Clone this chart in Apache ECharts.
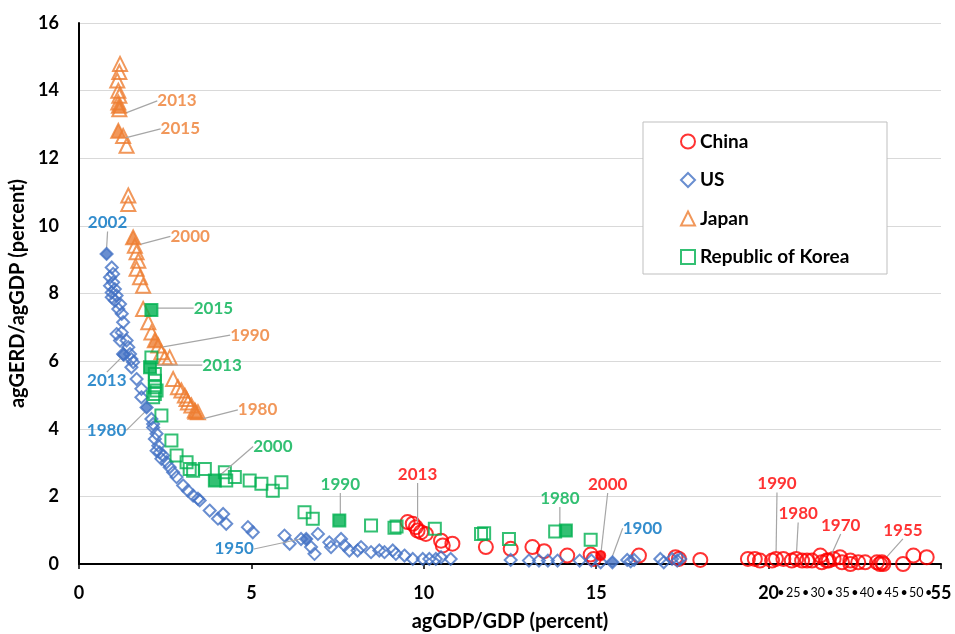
<!DOCTYPE html>
<html>
<head>
<meta charset="utf-8">
<script src="https://cdn.jsdelivr.net/npm/echarts@6/dist/echarts.min.js"></script>
<style>
  html, body { margin: 0; padding: 0; background: #ffffff; }
  #chart { width: 955px; height: 634px; }
</style>
</head>
<body>
<div id="chart"></div>
<script>
// agGERD/agGDP (%) against agGDP/GDP (%) for four countries.
// Past 20 on the x axis the scale is squeezed 1:7 so the range 20–55 fits.

// ---- China -------------------------------------------------------------
const chinaPoints = [
  [9.53, 1.24], [9.68, 1.19], [9.77, 1.09], [9.92, 0.94], [10.06, 0.89],
  [10.5, 0.69], [10.55, 0.55], [10.83, 0.6], [11.8, 0.5], [12.52, 0.45],
  [13.15, 0.5], [13.49, 0.38], [14.16, 0.25], [14.84, 0.28], [14.93, 0.15],
  [16.24, 0.25], [17.3, 0.2], [17.4, 0.15], [18.02, 0.12], [19.4, 0.15],
  [19.6, 0.15], [19.75, 0.1], [20.7, 0.1], [23.0, 0.15], [24.7, 0.1],
  [26.8, 0.1], [27.8, 0.1], [28.8, 0.1], [30.5, 0.25], [30.8, 0.05],
  [31.8, 0.1], [33.2, 0.15], [34.5, 0.2], [34.9, 0.05], [36.6, 0.1],
  [36.6, 0.0], [38.2, 0.05], [39.6, 0.05], [42.0, 0.05], [42.6, 0.0],
  [43.3, 0.0], [47.3, 0.0], [49.4, 0.25], [52.1, 0.2]
];
const chinaYearPoints = [[9.82, 0.99], [15.13, 0.25], [21.5, 0.15], [25.6, 0.15], [32.2, 0.1], [43.0, 0.05]];
const chinaYears = ['2013', '2000', '1990', '1980', '1970', '1955'];

// ---- US ----------------------------------------------------------------
const usPoints = [
  [0.95, 8.77], [0.99, 8.58], [0.9, 8.48], [0.99, 8.33], [0.9, 8.23],
  [1.04, 8.13], [0.95, 8.03], [1.09, 7.94], [0.95, 7.89], [1.04, 7.79],
  [1.19, 7.69], [1.14, 7.54], [1.24, 7.4], [1.28, 7.15], [1.24, 6.85],
  [1.09, 6.8], [1.19, 6.61], [1.38, 6.61], [1.43, 6.41], [1.28, 6.21],
  [1.48, 6.21], [1.52, 6.06], [1.57, 5.97], [1.52, 5.82], [1.67, 5.47],
  [1.81, 5.18], [1.81, 4.93], [2.1, 4.29], [2.15, 4.14], [2.15, 4.04],
  [2.25, 3.85], [2.2, 3.7], [2.3, 3.5], [2.34, 3.3], [2.25, 3.35],
  [2.44, 3.21], [2.39, 3.11], [2.54, 3.01], [2.63, 2.86], [2.73, 2.71],
  [2.83, 2.57], [3.02, 2.32], [3.16, 2.17], [3.31, 2.02], [3.45, 1.93],
  [3.5, 1.88], [3.79, 1.58], [4.03, 1.34], [4.18, 1.48], [4.27, 1.19],
  [4.9, 1.09], [5.04, 0.94], [5.96, 0.84], [6.11, 0.6], [6.44, 0.74],
  [6.73, 0.5], [6.83, 0.3], [6.93, 0.89], [7.26, 0.64], [7.31, 0.5],
  [7.6, 0.74], [7.7, 0.55], [7.84, 0.4], [8.08, 0.4], [8.18, 0.5],
  [8.47, 0.35], [8.71, 0.4], [8.86, 0.35], [9.1, 0.4], [9.19, 0.3],
  [9.44, 0.25], [9.68, 0.15], [9.97, 0.15], [10.16, 0.15], [10.35, 0.15],
  [10.5, 0.2], [10.78, 0.15], [12.52, 0.12], [13.05, 0.1], [13.34, 0.1],
  [13.6, 0.1], [13.88, 0.1], [14.52, 0.1], [14.86, 0.1], [15.13, 0.05],
  [15.9, 0.12], [16.0, 0.08], [16.1, 0.12], [16.86, 0.15], [16.96, 0.05],
  [17.2, 0.15], [17.35, 0.1], [17.44, 0.15]
];
const usYearPoints = [[0.8, 9.17], [1.3, 6.19], [1.96, 4.63], [6.59, 0.74], [15.47, 0.05]];
const usYears = ['2002', '2013', '1980', '1950', '1900'];

// ---- Japan -------------------------------------------------------------
const japanPoints = [
  [1.19, 14.79], [1.17, 14.55], [1.11, 14.3], [1.14, 14.0], [1.17, 13.85],
  [1.14, 13.65], [1.17, 13.45], [1.28, 12.66], [1.38, 12.37], [1.43, 10.9],
  [1.43, 10.65], [1.62, 9.41], [1.67, 9.22], [1.72, 8.97], [1.67, 8.73],
  [1.77, 8.48], [1.86, 8.23], [1.86, 7.54], [2.01, 7.15], [2.1, 6.85],
  [2.3, 6.46], [2.39, 6.26], [2.49, 6.11], [2.63, 6.11], [2.73, 5.47],
  [2.87, 5.23], [2.97, 5.13], [3.07, 4.98], [3.12, 4.88], [3.16, 4.78],
  [3.26, 4.69], [3.36, 4.54], [3.45, 4.49]
];
const japanYearPoints = [[1.16, 13.55], [1.14, 12.81], [1.57, 9.66], [2.2, 6.62], [3.38, 4.5]];
const japanYears = ['2013', '2015', '2000', '1990', '1980'];

// ---- Republic of Korea -------------------------------------------------
const koreaPoints = [
  [2.1, 6.11], [2.2, 5.62], [2.2, 5.42], [2.2, 5.23], [2.25, 5.13],
  [2.2, 5.03], [2.15, 4.93], [2.39, 4.39], [2.68, 3.65], [2.83, 3.21],
  [3.12, 3.01], [3.21, 2.81], [3.31, 2.76], [3.65, 2.81], [4.23, 2.71],
  [4.27, 2.47], [4.52, 2.57], [4.95, 2.47], [5.29, 2.37], [5.62, 2.17],
  [5.87, 2.42], [6.54, 1.53], [6.78, 1.34], [8.47, 1.14], [9.15, 1.07],
  [9.21, 1.11], [10.32, 1.04], [11.66, 0.89], [11.75, 0.91], [12.47, 0.74],
  [13.81, 0.96], [14.84, 0.72]
];
const koreaYearPoints = [[2.1, 7.51], [2.06, 5.82], [3.94, 2.47], [7.55, 1.29], [14.12, 0.99]];
const koreaYears = ['2015', '2013', '2000', '1990', '1980'];

// ---- axis ticks ---------------------------------------------------------
const xMajorTicks = [0, 5, 10, 15, 20, 55];
const xMinorTicks = [25, 30, 35, 40, 45, 50];
const yTicks = [0, 2, 4, 6, 8, 10, 12, 14, 16];

// ---- x-axis break -------------------------------------------------------
const BREAK = 20, SQUEEZE = 7;
const toAxis = x => (x <= BREAK ? x : BREAK + (x - BREAK) / SQUEEZE);
const fromAxis = v => (v <= BREAK ? v : BREAK + (v - BREAK) * SQUEEZE);
const xAxisMax = toAxis(xMajorTicks[xMajorTicks.length - 1]);

const FONT = 'Lato, "Open Sans", sans-serif';
const HOLLOW = 'rgba(255,255,255,0)';

// label placement (pixel offset of each year label from its marker)
const chinaLabelShift = [[0, -56], [7, -71], [1, -75], [2, -45], [12, -35], [21, -32]];
const usLabelShift = [[1, -31], [-17, 26], [-40, 23], [-72, 10], [30, -34]];
const japanLabelShift = [[58, -5], [62, -2], [57, -1], [95, -5], [62, -2]];
const koreaLabelShift = [[62, -2], [72, -2], [58, -34], [1, -36], [-6, -32]];

function pointSeries(name, symbol, size, color, points) {
  return {
    type: 'scatter', name, symbol, symbolSize: size,
    data: points.map(p => [toAxis(p[0]), p[1]]),
    itemStyle: { color: HOLLOW, borderColor: color, borderWidth: 2 },
    emphasis: { disabled: true },
    z: 2
  };
}

function yearSeries(name, symbol, size, color, labelColor, points, years, shifts, filledYears) {
  return {
    type: 'scatter', name, symbol, symbolSize: size,
    data: points.map((p, i) => {
      const filled = !filledYears || filledYears.includes(years[i]);
      return {
        value: [toAxis(p[0]), p[1]],
        symbolSize: filled && filledYears ? size * 0.65 : size,
        itemStyle: filled
          ? { color: color, borderColor: color, borderWidth: 2 }
          : { color: HOLLOW, borderColor: color, borderWidth: 2 }
      };
    }),
    label: {
      show: true,
      formatter: p => years[p.dataIndex],
      color: labelColor,
      fontFamily: FONT, fontWeight: 'bold', fontSize: 17
    },
    labelLine: { show: true, lineStyle: { color: '#A6A6A6', width: 1.2 } },
    labelLayout: params => {
      const s = shifts[params.dataIndex];
      const cx = params.rect.x + params.rect.width / 2;
      const cy = params.rect.y + params.rect.height / 2;
      return { x: cx + s[0], y: cy + s[1], align: 'center', verticalAlign: 'middle' };
    },
    emphasis: { disabled: true },
    z: 3
  };
}

const RED = '#FF0000', BLUE = '#4472C4', ORANGE = '#ED7D31', GREEN = '#00B050';

const chart = echarts.init(document.getElementById('chart'), null, { renderer: 'canvas' });
chart.setOption({
  animation: false,
  backgroundColor: '#ffffff',
  textStyle: { fontFamily: FONT },
  grid: { left: 79, right: 14, top: 23, bottom: 70, containLabel: false, outerBoundsMode: 'none' },
  legend: {
    data: ['China', 'US', 'Japan', 'Republic of Korea'],
    orient: 'vertical',
    left: 675, top: 127,
    itemWidth: 14, itemHeight: 14, itemGap: 19.5,
    textStyle: { fontFamily: FONT, fontWeight: 'bold', fontSize: 19, color: '#000' },
    selectedMode: false,
    z: 5
  },
  graphic: [{
    type: 'rect', z: 4,
    shape: { x: 643, y: 122, width: 244, height: 152 },
    style: { fill: '#ffffff', stroke: '#BFBFBF', lineWidth: 1 }
  }],
  xAxis: [{
    type: 'value', min: 0, max: xAxisMax, interval: 5,
    name: 'agGDP/GDP (percent)', nameLocation: 'middle', nameGap: 48,
    nameTextStyle: { fontFamily: FONT, fontWeight: 'bold', fontSize: 20, color: '#000' },
    axisLine: { show: true, onZero: false, lineStyle: { color: '#000', width: 2 } },
    axisTick: { show: true, length: 5, lineStyle: { color: '#000', width: 1.5 } },
    splitLine: { show: false },
    axisLabel: {
      margin: 20, color: '#000', fontFamily: FONT, fontWeight: 'bold', fontSize: 18,
      formatter: v => {
        const o = Math.round(fromAxis(v));
        return xMajorTicks.includes(o) ? String(o) : '';
      }
    }
  }, {
    type: 'value', min: 0, max: xAxisMax, interval: 5 / (2 * SQUEEZE), position: 'bottom',
    axisLine: { show: false }, axisTick: { show: false }, splitLine: { show: false },
    axisLabel: {
      margin: 22, color: '#000', fontFamily: FONT, fontSize: 12.5,
      showMinLabel: false, showMaxLabel: false,
      formatter: v => {
        if (v < BREAK + 0.2 || v > xAxisMax - 0.2) return '';
        const o = Math.round(fromAxis(v) * 2) / 2;
        if (xMinorTicks.includes(o)) return String(o);
        return Number.isInteger(o) ? '' : '•';
      }
    }
  }],
  yAxis: {
    type: 'value', min: yTicks[0], max: yTicks[yTicks.length - 1], interval: 2,
    name: 'agGERD/agGDP (percent)', nameLocation: 'middle', nameGap: 47, nameRotate: 90,
    nameTextStyle: { fontFamily: FONT, fontWeight: 'bold', fontSize: 20, color: '#000' },
    axisLine: { show: true, lineStyle: { color: '#000', width: 2 } },
    axisTick: { show: false },
    splitLine: { show: true, lineStyle: { color: '#D9D9D9', width: 1.2 } },
    axisLabel: { margin: 20, color: '#000', fontFamily: FONT, fontWeight: 'bold', fontSize: 18 }
  },
  series: [
    pointSeries('China', 'circle', 14, RED, chinaPoints),
    yearSeries('China', 'circle', 14, RED, RED, chinaYearPoints, chinaYears, chinaLabelShift, ['2000']),
    pointSeries('US', 'diamond', 12, BLUE, usPoints),
    yearSeries('US', 'diamond', 12, BLUE, '#0070C0', usYearPoints, usYears, usLabelShift),
    pointSeries('Japan', 'triangle', 14, ORANGE, japanPoints),
    yearSeries('Japan', 'triangle', 14, ORANGE, ORANGE, japanYearPoints, japanYears, japanLabelShift),
    pointSeries('Republic of Korea', 'rect', 12, GREEN, koreaPoints),
    yearSeries('Republic of Korea', 'rect', 12, GREEN, GREEN, koreaYearPoints, koreaYears, koreaLabelShift)
  ]
});
</script>
</body>
</html>
